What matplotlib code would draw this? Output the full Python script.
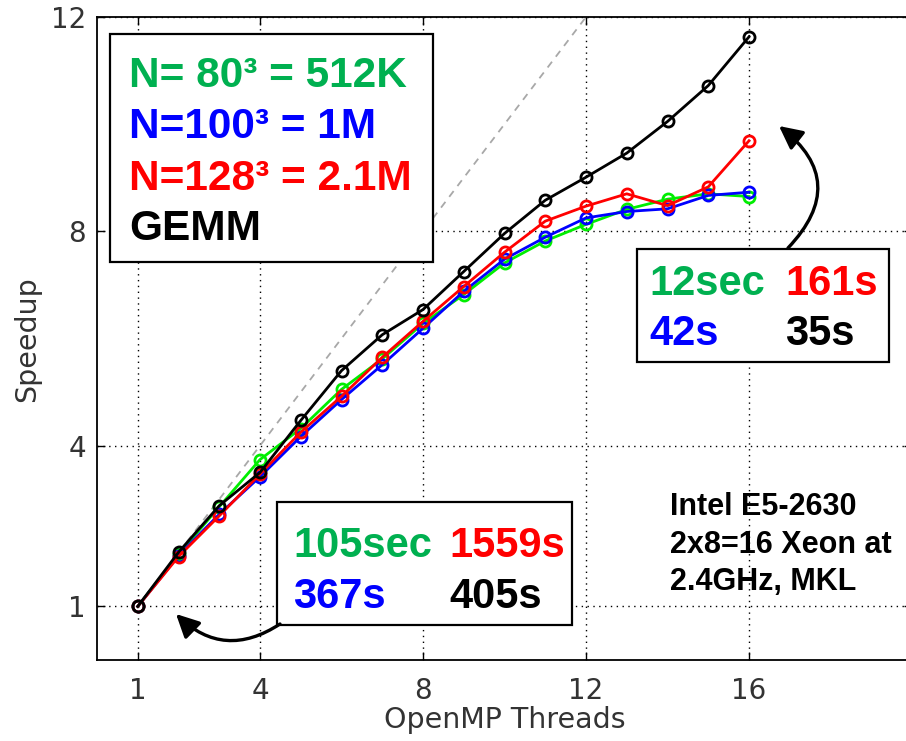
import matplotlib
matplotlib.use('Agg')
import matplotlib.pyplot as plt
from matplotlib.patches import Rectangle, FancyArrowPatch

# thread counts and measured speedups
threads = list(range(1, 17))
sp_80 = [1.0, 1.97, 2.86, 3.74, 4.32, 5.05, 5.62, 6.28, 6.82, 7.41, 7.82, 8.13, 8.41, 8.60, 8.70, 8.65]
sp_100 = [1.0, 1.95, 2.72, 3.42, 4.17, 4.86, 5.51, 6.19, 6.88, 7.48, 7.89, 8.25, 8.37, 8.42, 8.67, 8.73]
sp_128 = [1.0, 1.93, 2.69, 3.47, 4.25, 4.92, 5.65, 6.32, 6.97, 7.61, 8.19, 8.47, 8.70, 8.48, 8.83, 9.69]
sp_gemm = [1.0, 2.01, 2.88, 3.50, 4.47, 5.40, 6.07, 6.54, 7.25, 7.96, 8.58, 9.01, 9.46, 10.05, 10.72, 11.63]
ideal = [1, 12]

xticks = [1, 4, 8, 12, 16]
yticks = [1, 4, 8, 12]

W, H = 906, 741
fig = plt.figure(figsize=(W / 100, H / 100), dpi=100)

# axes in pixel terms: left 97, right 912, top 17, bottom 660
ax = fig.add_axes([97 / W, 1 - 660 / H, (912 - 97) / W, (660 - 17) / H])

ax.plot(ideal, ideal, color='#a8a8a8', lw=1.3, ls=(0, (4, 3.5)), zorder=2)

lines = [(sp_80, '#00ee00'), (sp_100, '#0000ff'), (sp_128, '#ff0000'), (sp_gemm, 'black')]
for ys, c in lines:
    ax.plot(threads, ys, color=c, lw=2.0, marker='o', ms=8, mfc='none', mec=c, mew=2.0, zorder=3)

ax.set_xlim(0, 20)
ax.set_ylim(0, 12)
ax.set_xticks(xticks)
ax.set_yticks(yticks)
ax.grid(True, color='black', ls=(0, (1, 3.2)), lw=1.0)
ax.tick_params(direction='in', top=True, right=True, length=6, width=1,
               labelsize=20, labelcolor='#333333')
ax.tick_params(axis='x', pad=12)
ax.tick_params(axis='y', pad=8)
for s in ax.spines.values():
    s.set_linewidth(1.3)

ax.set_xlabel('OpenMP Threads', fontsize=20.5, color='#333333', va='center')
ax.set_ylabel('Speedup', fontsize=20.5, color='#333333', va='center')
ax.xaxis.set_label_coords(0.5, (660 - 720) / 643)
ax.yaxis.set_label_coords((27 - 97) / 815, (660 - 339) / 643)


def fx(px):
    return px / W


def fy(py):
    return 1 - py / H


def box(x0, y0, x1, y1):
    fig.patches.append(Rectangle((fx(x0), fy(y1)), fx(x1) - fx(x0), fy(y0) - fy(y1),
                                 transform=fig.transFigure, fc='white', ec='black',
                                 lw=1.6, zorder=5))


bold = dict(family='Liberation Sans', fontweight='bold', va='baseline', zorder=6)
GREEN, BLUE, RED = '#00b050', '#0000ff', '#ff0000'

# legend box
box(110, 34, 433, 262)
fig.text(fx(129), fy(87), 'N= 80³ = 512K', color=GREEN, fontsize=30.5, **bold)
fig.text(fx(129), fy(138), 'N=100³ = 1M', color=BLUE, fontsize=30.5, **bold)
fig.text(fx(129), fy(190), 'N=128³ = 2.1M', color=RED, fontsize=30.5, **bold)
fig.text(fx(129), fy(240), 'GEMM', color='black', fontsize=30.5, **bold)

# timing box, upper right
box(637, 249, 889, 362)
fig.text(fx(649), fy(295), '12sec', color=GREEN, fontsize=30, **bold)
fig.text(fx(785), fy(295), '161s', color=RED, fontsize=30, **bold)
fig.text(fx(649), fy(345), '42s', color=BLUE, fontsize=30, **bold)
fig.text(fx(785), fy(345), '35s', color='black', fontsize=30, **bold)

# timing box, lower
box(277, 502, 572, 625)
fig.text(fx(293), fy(557), '105sec', color=GREEN, fontsize=30, **bold)
fig.text(fx(449), fy(557), '1559s', color=RED, fontsize=30, **bold)
fig.text(fx(293), fy(608), '367s', color=BLUE, fontsize=30, **bold)
fig.text(fx(449), fy(608), '405s', color='black', fontsize=30, **bold)

# machine note
fig.text(fx(670), fy(515), 'Intel E5-2630', color='black', fontsize=22, **bold)
fig.text(fx(670), fy(553), '2x8=16 Xeon at', color='black', fontsize=22, **bold)
fig.text(fx(670), fy(590), '2.4GHz, MKL', color='black', fontsize=22, **bold)

# curved arrows
arrow = dict(arrowstyle='-|>,head_length=0.7,head_width=0.35', color='black', lw=2.4,
             mutation_scale=20, shrinkA=0, shrinkB=0)
fig.add_artist(FancyArrowPatch(
    (fx(280), fy(624)), (fx(176), fy(614)), transform=fig.transFigure,
    connectionstyle='arc3,rad=-0.4', zorder=7, **arrow))
fig.add_artist(FancyArrowPatch(
    (fx(788), fy(248)), (fx(779), fy(126)), transform=fig.transFigure,
    connectionstyle='arc3,rad=0.55', zorder=7, **arrow))

fig.savefig('out.png', dpi=100)
